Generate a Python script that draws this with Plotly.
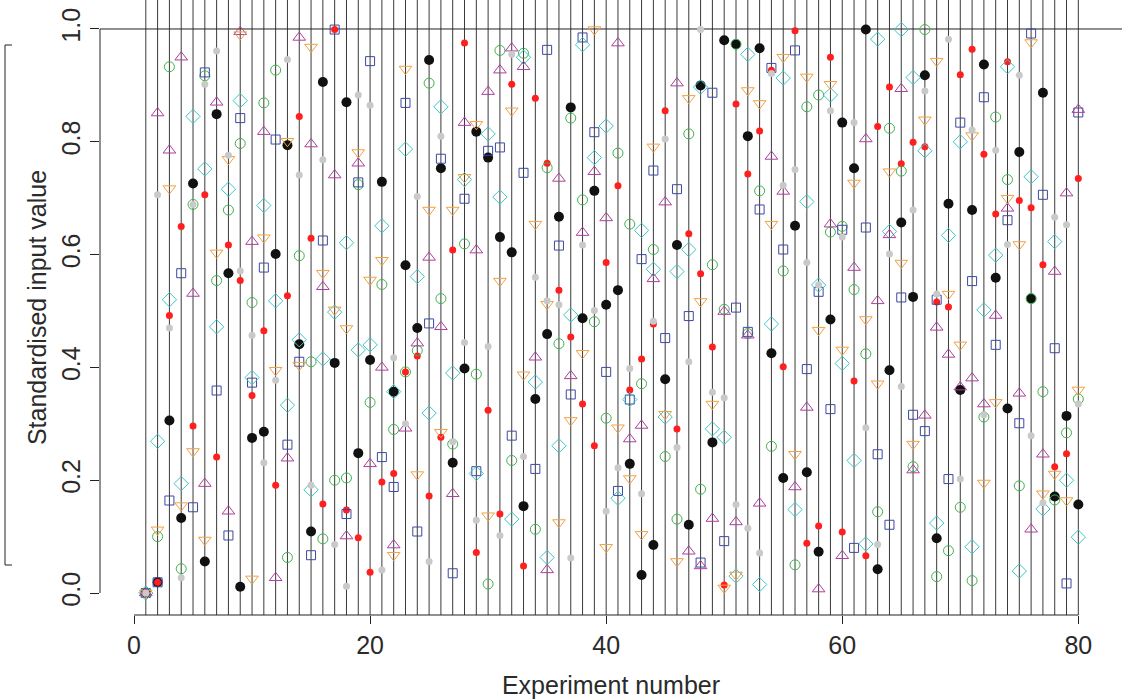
import plotly.graph_objects as go

experiments = list(range(1, 81))

black = [0.0, 0.019, 0.306, 0.133, 0.726, 0.056, 0.849, 0.567, 0.011, 0.275,
         0.286, 0.601, 0.794, 0.441, 0.109, 0.906, 0.408, 0.870, 0.248, 0.413,
         0.729, 0.357, 0.581, 0.470, 0.945, 0.753, 0.231, 0.398, 0.818, 0.772,
         0.631, 0.604, 0.154, 0.344, 0.459, 0.667, 0.861, 0.487, 0.713, 0.511,
         0.537, 0.229, 0.032, 0.085, 0.379, 0.617, 0.121, 0.900, 0.267, 0.980,
         0.973, 0.810, 0.966, 0.425, 0.204, 0.651, 0.214, 0.073, 0.485, 0.834,
         0.753, 0.999, 0.042, 0.395, 0.657, 0.525, 0.918, 0.097, 0.690, 0.360,
         0.679, 0.937, 0.559, 0.327, 0.782, 0.522, 0.887, 0.171, 0.314, 0.157]

red = [0.0, 0.019, 0.492, 0.650, 0.296, 0.706, 0.241, 0.617, 0.554, 0.350,
       0.465, 0.191, 0.527, 0.845, 0.629, 0.158, 0.999, 0.147, 0.098, 0.037,
       0.197, 0.212, 0.392, 0.420, 0.172, 0.276, 0.608, 0.975, 0.072, 0.324,
       0.140, 0.902, 0.048, 0.877, 0.762, 0.537, 0.454, 0.335, 0.261, 0.586,
       0.722, 0.360, 0.415, 0.477, 0.855, 0.291, 0.637, 0.566, 0.436, 0.014,
       0.867, 0.743, 0.819, 0.927, 0.401, 0.997, 0.088, 0.119, 0.950, 0.108,
       0.376, 0.066, 0.827, 0.897, 0.761, 0.799, 0.791, 0.516, 0.507, 0.919,
       0.964, 0.778, 0.672, 0.942, 0.696, 0.683, 0.582, 0.224, 0.247, 0.735]

green = [0.0, 0.100, 0.933, 0.043, 0.689, 0.917, 0.554, 0.679, 0.797, 0.515,
         0.869, 0.927, 0.063, 0.598, 0.410, 0.096, 0.200, 0.204, 0.724, 0.338,
         0.547, 0.290, 0.392, 0.430, 0.904, 0.522, 0.264, 0.619, 0.388, 0.016,
         0.962, 0.235, 0.957, 0.113, 0.754, 0.442, 0.842, 0.697, 0.481, 0.310,
         0.780, 0.654, 0.371, 0.609, 0.242, 0.131, 0.814, 0.184, 0.582, 0.503,
         0.973, 0.460, 0.713, 0.260, 0.571, 0.050, 0.862, 0.883, 0.640, 0.650,
         0.538, 0.424, 0.144, 0.824, 0.748, 0.224, 0.999, 0.029, 0.075, 0.152,
         0.022, 0.312, 0.844, 0.733, 0.190, 0.522, 0.357, 0.165, 0.284, 0.344]

blue = [0.0, 0.019, 0.164, 0.567, 0.152, 0.923, 0.359, 0.102, 0.842, 0.373,
        0.577, 0.804, 0.263, 0.410, 0.067, 0.625, 0.999, 0.140, 0.728, 0.943,
        0.241, 0.188, 0.869, 0.109, 0.478, 0.770, 0.035, 0.699, 0.216, 0.784,
        0.790, 0.279, 0.745, 0.220, 0.963, 0.616, 0.352, 0.985, 0.817, 0.392,
        0.181, 0.343, 0.592, 0.749, 0.452, 0.716, 0.491, 0.054, 0.887, 0.092,
        0.506, 0.463, 0.680, 0.931, 0.609, 0.962, 0.397, 0.534, 0.326, 0.644,
        0.080, 0.648, 0.246, 0.121, 0.524, 0.316, 0.287, 0.520, 0.202, 0.834,
        0.553, 0.879, 0.440, 0.661, 0.301, 0.992, 0.706, 0.434, 0.017, 0.852]

cyan = [0.0, 0.269, 0.520, 0.194, 0.845, 0.752, 0.472, 0.716, 0.873, 0.382,
        0.687, 0.518, 0.333, 0.449, 0.183, 0.415, 0.498, 0.621, 0.431, 0.440,
        0.651, 0.357, 0.787, 0.561, 0.319, 0.862, 0.390, 0.733, 0.212, 0.814,
        0.702, 0.131, 0.950, 0.374, 0.063, 0.261, 0.493, 0.972, 0.772, 0.828,
        0.168, 0.343, 0.643, 0.574, 0.312, 0.570, 0.609, 0.897, 0.291, 0.276,
        0.030, 0.955, 0.015, 0.477, 0.913, 0.148, 0.694, 0.546, 0.883, 0.407,
        0.235, 0.087, 0.982, 0.641, 0.999, 0.914, 0.784, 0.124, 0.634, 0.800,
        0.082, 0.502, 0.599, 0.933, 0.039, 0.738, 0.149, 0.623, 0.200, 0.099]

purple = [0.0, 0.851, 0.785, 0.950, 0.531, 0.194, 0.870, 0.145, 0.995, 0.623,
          0.818, 0.027, 0.239, 0.985, 0.796, 0.543, 0.741, 0.101, 0.762, 0.229,
          0.400, 0.085, 0.292, 0.443, 0.595, 0.472, 0.176, 0.834, 0.608, 0.889,
          0.927, 0.966, 0.933, 0.418, 0.041, 0.735, 0.385, 0.639, 0.747, 0.665,
          0.975, 0.273, 0.297, 0.557, 0.693, 0.904, 0.074, 0.048, 0.132, 0.499,
          0.126, 0.457, 0.159, 0.774, 0.712, 0.188, 0.329, 0.007, 0.654, 0.066,
          0.577, 0.805, 0.518, 0.635, 0.894, 0.218, 0.315, 0.471, 0.423, 0.365,
          0.381, 0.335, 0.492, 0.682, 0.354, 0.113, 0.246, 0.570, 0.709, 0.857]

orange = [0.0, 0.112, 0.717, 0.155, 0.251, 0.094, 0.603, 0.769, 0.990, 0.025,
          0.630, 0.395, 0.801, 0.404, 0.968, 0.567, 0.502, 0.469, 0.781, 0.555,
          0.590, 0.067, 0.929, 0.210, 0.679, 0.285, 0.679, 0.737, 0.831, 0.137,
          0.553, 0.855, 0.387, 0.654, 0.512, 0.125, 0.306, 0.425, 0.999, 0.081,
          0.293, 0.203, 0.104, 0.791, 0.317, 0.056, 0.877, 0.517, 0.335, 0.009,
          0.032, 0.891, 0.868, 0.654, 0.950, 0.246, 0.915, 0.466, 0.902, 0.431,
          0.727, 0.485, 0.371, 0.747, 0.585, 0.264, 0.839, 0.943, 0.530, 0.440,
          0.811, 0.195, 0.338, 0.700, 0.618, 0.976, 0.176, 0.211, 0.164, 0.360]

grey = [0.0, 0.706, 0.470, 0.027, 0.689, 0.902, 0.961, 0.776, 0.571, 0.457,
        0.231, 0.377, 0.946, 0.741, 0.191, 0.768, 0.086, 0.012, 0.883, 0.865,
        0.041, 0.417, 0.300, 0.703, 0.056, 0.810, 0.268, 0.444, 0.129, 0.437,
        0.102, 0.955, 0.242, 0.560, 0.518, 0.511, 0.062, 0.617, 0.501, 0.145,
        0.222, 0.398, 0.176, 0.482, 0.805, 0.258, 0.410, 0.999, 0.356, 0.346,
        0.157, 0.115, 0.071, 0.921, 0.723, 0.751, 0.586, 0.546, 0.855, 0.631,
        0.834, 0.293, 0.086, 0.601, 0.366, 0.679, 0.890, 0.530, 0.982, 0.202,
        0.821, 0.316, 0.785, 0.618, 0.918, 0.279, 0.160, 0.666, 0.653, 0.335]

x_ticks = [0, 20, 40, 60, 80]
y_ticks = [0.0, 0.2, 0.4, 0.6, 0.8, 1.0]
y_ticktext = ["0.0", "0.2", "0.4", "0.6", "0.8", "1.0"]

FONT = "Liberation Sans, Arial, Helvetica, sans-serif"
FS = 25
TXT = "#2a2a2a"
XR = [-2.88, 83.7]
YR = [-0.039, 1.0514]

series = [
    (black, "circle", "#111111", 10, 0),
    (red, "circle", "#ff1f1f", 7, 0),
    (green, "circle-open", "#3cb44b", 10, 1),
    (blue, "square-open", "#3a48a6", 9, 1),
    (cyan, "diamond-open", "#3cc6c8", 11, 1),
    (purple, "triangle-up-open", "#b23c9e", 11, 1),
    (orange, "triangle-down-open", "#f4a040", 11, 1),
    (grey, "circle", "#c9c9c9", 7, 0),
]

fig = go.Figure()
for vals, sym, col, size, lw in series:
    fig.add_trace(go.Scatter(
        x=experiments, y=vals, mode="markers",
        marker=dict(symbol=sym, color=col, size=size,
                    line=dict(color=col, width=lw)),
        cliponaxis=False, hoverinfo="skip"))

def px(v):
    return (v - XR[0]) / (XR[1] - XR[0])

def py(v):
    return (v - YR[0]) / (YR[1] - YR[0])

shapes = []
for n in experiments:
    shapes.append(dict(type="line", xref="x", yref="paper", x0=n, x1=n,
                       y0=0, y1=1, line=dict(color="#3a3a3a", width=1),
                       layer="below"))
shapes.append(dict(type="line", xref="paper", yref="y", x0=0, x1=1,
                   y0=1, y1=1, line=dict(color="#222222", width=1),
                   layer="below"))
# axis lines spanning first to last tick
shapes.append(dict(type="line", xref="paper", yref="paper",
                   x0=px(x_ticks[0]), x1=px(x_ticks[-1]), y0=0, y1=0,
                   line=dict(color="#222222", width=1)))
shapes.append(dict(type="line", xref="paper", yref="paper",
                   x0=0, x1=0, y0=py(y_ticks[0]), y1=py(y_ticks[-1]),
                   line=dict(color="#222222", width=1)))
# cropped legend box edge at left
bx = -95 / 1022
bt = (615 - 45) / 615
bb = (615 - 565) / 615
shapes.append(dict(type="line", xref="paper", yref="paper", x0=bx, x1=bx,
                   y0=bb, y1=bt, line=dict(color="#222222", width=1)))
shapes.append(dict(type="line", xref="paper", yref="paper", x0=bx, x1=bx + 7 / 1022,
                   y0=bt, y1=bt, line=dict(color="#222222", width=1)))
shapes.append(dict(type="line", xref="paper", yref="paper", x0=bx, x1=bx + 7 / 1022,
                   y0=bb, y1=bb, line=dict(color="#222222", width=1)))

fig.update_layout(
    width=1122, height=699,
    margin=dict(l=100, r=0, t=0, b=84, autoexpand=False),
    paper_bgcolor="white", plot_bgcolor="white",
    showlegend=False,
    font=dict(family=FONT, size=FS, color=TXT),
    shapes=shapes,
    xaxis=dict(range=XR, tickvals=x_ticks, ticks="outside", ticklen=8,
               tickcolor="#222222", tickwidth=1, showgrid=False,
               zeroline=False, showline=False,
               tickfont=dict(family=FONT, size=FS, color=TXT),
               title=dict(text="Experiment number", standoff=18,
                          font=dict(family=FONT, size=FS, color=TXT))),
    yaxis=dict(range=YR, tickvals=y_ticks, ticktext=y_ticktext,
               tickangle=-90, ticks="outside", ticklen=9,
               tickcolor="#222222", tickwidth=1, showgrid=False,
               zeroline=False, showline=False,
               tickfont=dict(family=FONT, size=FS, color=TXT),
               title=dict(text="Standardised input value", standoff=3,
                          font=dict(family=FONT, size=FS, color=TXT))),
)

fig.write_html("out.html")
